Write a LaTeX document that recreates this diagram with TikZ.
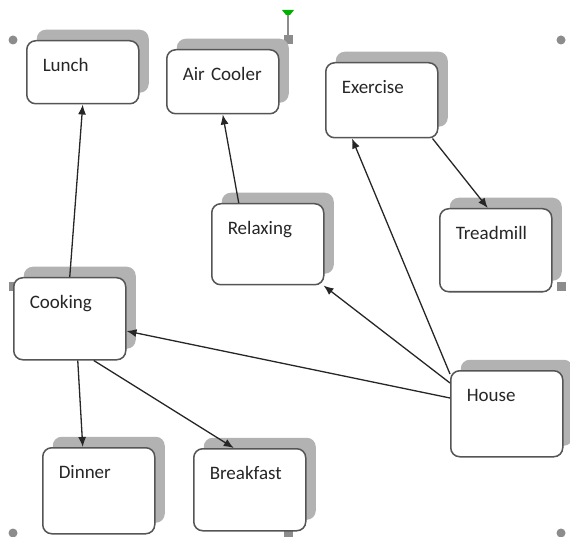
\documentclass[tikz,border=0pt]{standalone}
\usepackage{fontspec}
\setmainfont{Carlito}
\usepackage{tikz}
\usetikzlibrary{arrows.meta,shadows}

\definecolor{boxline}{RGB}{85,85,85}
\definecolor{handle}{RGB}{140,140,140}

\begin{document}
\begin{tikzpicture}[x=1pt,y=-1pt,
	topic/.style={anchor=north west, draw=boxline, line width=1.5pt, fill=white,
		rounded corners=9pt, inner xsep=16pt, inner ysep=18pt, text width=80pt,
		align=left, text height=13pt, text depth=#1, text=black!85,
		font=\fontsize{19}{21}\selectfont,
		copy shadow={shadow xshift=10pt, shadow yshift=11pt, draw=none, fill=black!30}},
	link/.style={-{Latex[length=10pt,width=8pt]}, line width=1.3pt, draw=black!85}]

	\useasboundingbox (0,0) rectangle (570,537);

	% selection frame
	\foreach \x/\y in {13/40, 561/40, 13/533, 561/533}
		\fill[handle] (\x,\y) circle (4.5);
	\foreach \x/\y in {288/40, 13/287, 561/287, 288/533}
		\fill[handle] (\x-4.5,\y-4.5) rectangle (\x+4.5,\y+4.5);
	\draw[handle, line width=1.2pt] (288,14) -- (288,36);
	\fill[green!70!black] (282,10) -- (294,10) -- (290,15) -- (286,15) -- cycle;

	\node[topic=14pt] (lunch) at (26,40) {Lunch};
	\node[topic=15pt] (air) at (166,49) {Air Cooler};
	\node[topic=26pt] (exercise) at (325,62) {Exercise};
	\node[topic=32pt] (relax) at (211,203) {Relaxing};
	\node[topic=34pt] (tread) at (439,208) {Treadmill};
	\node[topic=33pt] (cook) at (13,277) {Cooking};
	\node[topic=37pt] (house) at (450,370) {House};
	\node[topic=37pt] (dinner) at (42,447) {Dinner};
	\node[topic=33pt] (breakfast) at (193,448) {Breakfast};

	\draw[link] (cook.north) -- (lunch.south);
	\draw[link] ([xshift=-29pt]relax.north) -- (air.south);
	\draw[link] ([xshift=-6pt]exercise.south east) -- ([xshift=-8pt]tread.north);
	\draw[link] ([yshift=-4pt]house.north west) -- ([xshift=27pt]exercise.south west);
	\draw[link] ([yshift=-13pt]house.north west) -- ([xshift=-1pt]relax.south east);
	\draw[link] ([yshift=-28pt]house.north west) -- ([yshift=-54pt]cook.north east);
	\draw[link] ([xshift=8pt]cook.south) -- ([xshift=-16pt]dinner.north);
	\draw[link] ([xshift=24pt]cook.south) -- ([xshift=-16pt]breakfast.north);

\end{tikzpicture}
\end{document}
